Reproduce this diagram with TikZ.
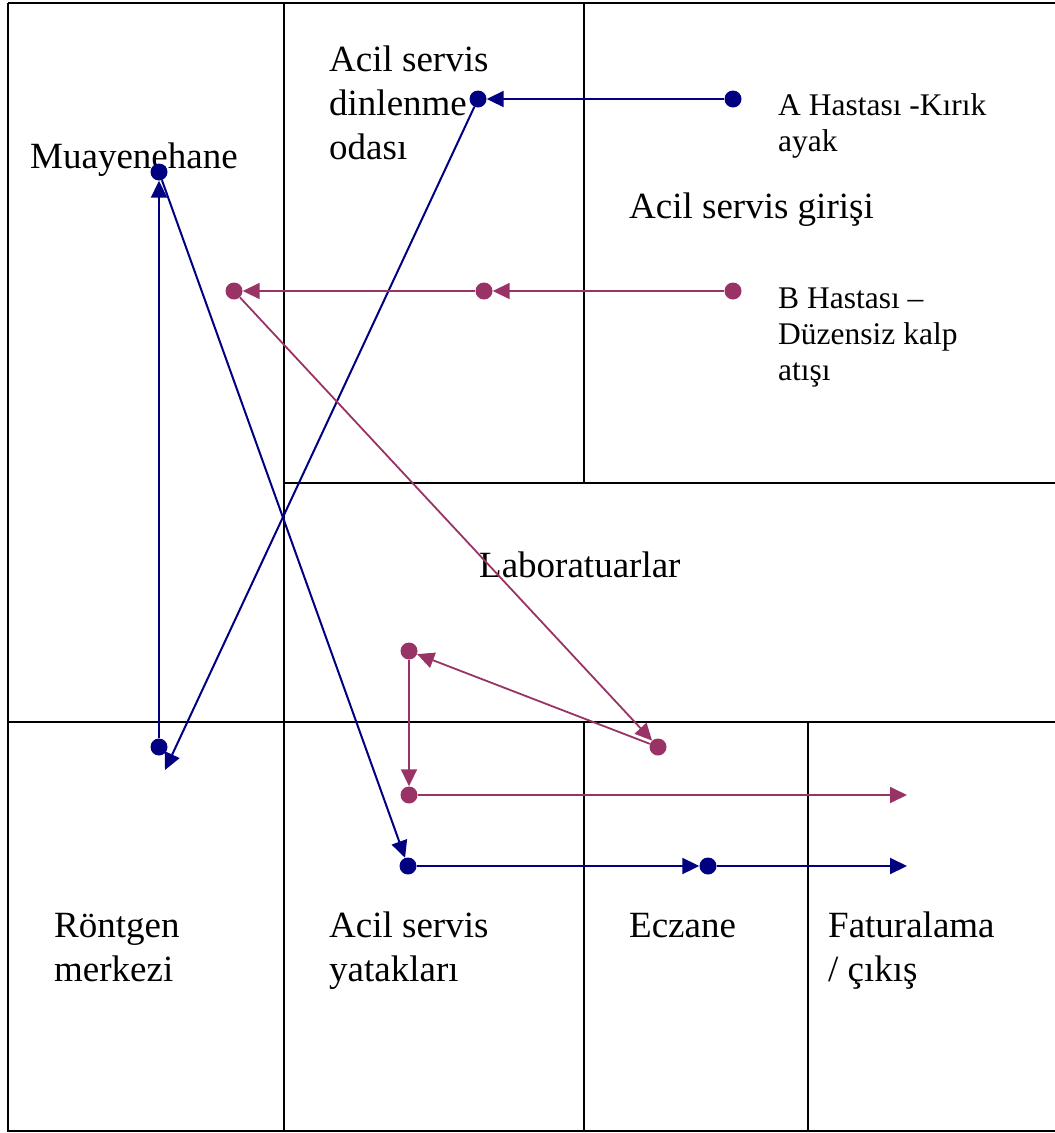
\documentclass[tikz,border=0pt]{standalone}
\usepackage{fontspec}
\setmainfont{Liberation Serif}
\usetikzlibrary{arrows.meta}
\definecolor{pathA}{RGB}{0,0,128}
\definecolor{pathB}{RGB}{153,51,102}

\begin{document}
\begin{tikzpicture}[x=1pt,y=-1pt,
  wall/.style={line width=2pt,black},
  bigtext/.style={anchor=north west,inner sep=0pt,align=left,font=\fontsize{37pt}{44pt}\selectfont},
  smalltext/.style={anchor=north west,inner sep=0pt,align=left,font=\fontsize{31.5pt}{36pt}\selectfont},
  dotA/.style={circle,fill=pathA,minimum size=17pt,inner sep=0pt},
  dotB/.style={circle,fill=pathB,minimum size=17pt,inner sep=0pt},
  flowA/.style={pathA,line width=2pt,-{Triangle[length=17pt,width=16pt]}},
  flowB/.style={pathB,line width=1.8pt,-{Triangle[length=17pt,width=16pt]}},
]
\useasboundingbox (0,0) rectangle (1055,1133);

% floor plan walls
\draw[wall] (8,3) -- (1055,3);
\draw[wall] (8,3) -- (8,1131) -- (1055,1131);
\draw[wall] (284,3) -- (284,1131);
\draw[wall] (584,3) -- (584,483);
\draw[wall] (284,483) -- (1055,483);
\draw[wall] (8,722) -- (1055,722);
\draw[wall] (584,722) -- (584,1131);
\draw[wall] (808,722) -- (808,1131);

% room names
\node[bigtext] (muay) at (30,137) {\strut Muayenehane};
\node[bigtext] (dinl) at (329,40) {\strut Acil servis\\dinlenme\\odası};
\node[bigtext] (giris) at (629,187) {\strut Acil servis girişi};
\node[bigtext] (lab) at (479,546) {\strut Laboratuarlar};
\node[bigtext] (rontgen) at (54,906) {\strut Röntgen\\merkezi};
\node[bigtext] (yatak) at (329,906) {\strut Acil servis\\yatakları};
\node[bigtext] (eczane) at (629,906) {\strut Eczane};
\node[bigtext] (fatura) at (828,906) {\strut Faturalama\\/ çıkış};

% patient labels
\node[smalltext] (hastaA) at (778,90) {\strut A Hastası -Kırık\\ayak};
\node[smalltext] (hastaB) at (778,283) {\strut B Hastası –\\Düzensiz kalp\\atışı};

% patient A stops
\node[dotA] (a1) at (733,99) {};
\node[dotA] (a2) at (478,99) {};
\node[dotA] (a3) at (159,747) {};
\node[dotA] (a4) at (159,172) {};
\node[dotA] (a5) at (408,866) {};
\node[dotA] (a6) at (708,866) {};
\coordinate (aXray) at (165,770);
\coordinate (aExit) at (907,866);

% patient B stops
\node[dotB] (b1) at (733,291) {};
\node[dotB] (b2) at (484,291) {};
\node[dotB] (b3) at (234,291) {};
\node[dotB] (b4) at (658,747) {};
\node[dotB] (b5) at (409,651) {};
\node[dotB] (b6) at (409,795) {};
\coordinate (bExit) at (907,795);

% patient A route
\draw[flowA] (a1) -- (a2);
\draw[flowA] (a2) -- (aXray);
\draw[flowA] (a3) -- (a4);
\draw[flowA] (a4) -- (a5);
\draw[flowA] (a5) -- (a6);
\draw[flowA] (a6) -- (aExit);

% patient B route
\draw[flowB] (b1) -- (b2);
\draw[flowB] (b2) -- (b3);
\draw[flowB] (b3) -- (b4);
\draw[flowB] (b4) -- (b5);
\draw[flowB] (b5) -- (b6);
\draw[flowB] (b6) -- (bExit);
\end{tikzpicture}
\end{document}
